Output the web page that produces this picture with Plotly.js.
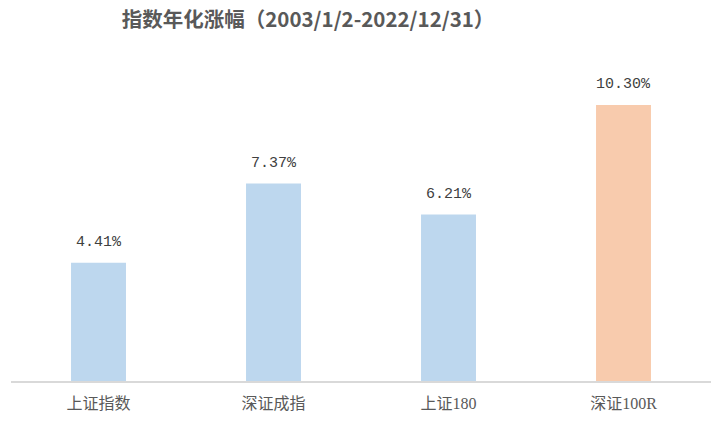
<!DOCTYPE html>
<html>
<head>
<meta charset="utf-8">
<script src="https://cdn.plot.ly/plotly-3.0.1.min.js"></script>
<style>html,body{margin:0;padding:0;background:#fff;}#chart{width:716px;height:421px;}</style>
</head>
<body>
<div id="chart"></div>
<script>
const categories = ["上证指数", "深证成指", "上证180", "深证100R"];
const values = [4.41, 7.37, 6.21, 10.30];
const barColors = ["#BDD7EE", "#BDD7EE", "#BDD7EE", "#F8CBAD"];
const valueLabels = ["4.41%", "7.37%", "6.21%", "10.30%"];

const trace = {
  type: "bar",
  x: categories,
  y: values,
  marker: {color: barColors, line: {width: 0}},
  hoverinfo: "none"
};

const annotations = categories.map((c, i) => ({
  x: c, y: values[i], xref: "x", yref: "y",
  text: valueLabels[i], showarrow: false,
  yanchor: "bottom", yshift: 10,
  font: {family: "Liberation Mono, monospace", size: 15, color: "#404040"}
}));

const layout = {
  width: 716, height: 421,
  margin: {l: 11, r: 5, t: 60, b: 40},
  paper_bgcolor: "#fff", plot_bgcolor: "#fff",
  bargap: 0.686,
  showlegend: false,
  title: {
    text: "<b>指数年化涨幅（2003/1/2-2022/12/31）</b>",
    xref: "container", yref: "container",
    x: 0.17, xanchor: "left", y: 0.952, yanchor: "middle",
    font: {family: "Noto Sans CJK SC, sans-serif", size: 20.5, color: "#595959"}
  },
  xaxis: {
    type: "category",
    showline: true, linecolor: "#D9D9D9", linewidth: 1.5,
    showgrid: false, zeroline: false, ticks: "",
    tickfont: {family: "Liberation Serif, Noto Sans CJK SC, serif", size: 16, color: "#595959"},
    ticklabelstandoff: 7
  },
  yaxis: {
    range: [0, 11.98], visible: false, showgrid: false, zeroline: false
  },
  annotations: annotations
};

Plotly.newPlot("chart", [trace], layout, {displayModeBar: false, staticPlot: true});
</script>
</body>
</html>
